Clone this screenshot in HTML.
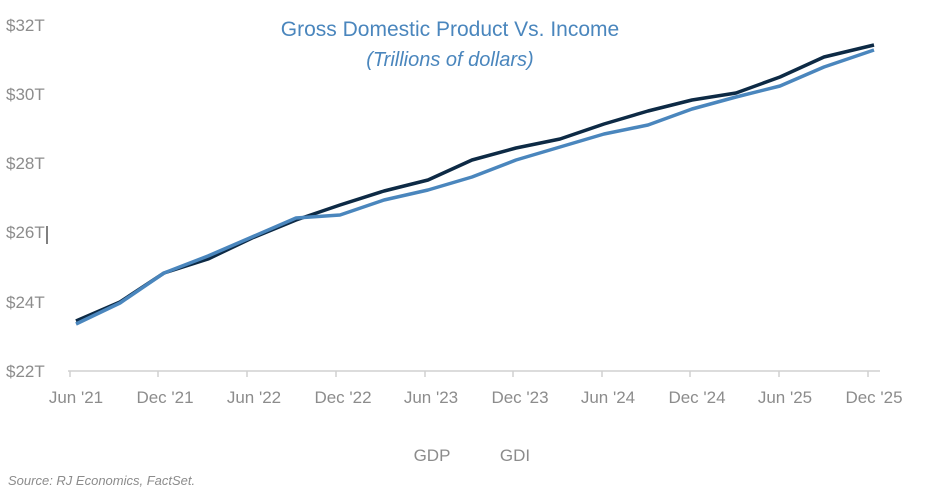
<!DOCTYPE html>
<html><head><meta charset="utf-8"><style>
body{margin:0;background:#fff;}
svg{display:block;font-family:"Liberation Sans",sans-serif;}
</style></head><body>
<svg width="936" height="494" viewBox="0 0 936 494">
<text x="450" y="36" text-anchor="middle" font-size="21" fill="#4a86bd">Gross Domestic Product Vs. Income</text>
<text x="450" y="66" text-anchor="middle" font-size="20" font-style="italic" fill="#4a86bd">(Trillions of dollars)</text>
<g font-size="17" fill="#8c8c8c">
<text x="6" y="31">$32T</text>
<text x="6" y="100">$30T</text>
<text x="6" y="169">$28T</text>
<text x="6" y="238">$26T</text>
<text x="6" y="308">$24T</text>
<text x="6" y="377">$22T</text>
</g>
<line x1="47" y1="226" x2="47" y2="244" stroke="#000" stroke-width="1"/>
<line x1="68" y1="371" x2="880" y2="371" stroke="#d0d0d0" stroke-width="1.5"/>
<g stroke="#d0d0d0" stroke-width="1.5">
<line x1="70" y1="371" x2="70" y2="377"/><line x1="158" y1="371" x2="158" y2="377"/><line x1="247" y1="371" x2="247" y2="377"/><line x1="336" y1="371" x2="336" y2="377"/><line x1="425" y1="371" x2="425" y2="377"/><line x1="513" y1="371" x2="513" y2="377"/><line x1="602" y1="371" x2="602" y2="377"/><line x1="690" y1="371" x2="690" y2="377"/><line x1="779" y1="371" x2="779" y2="377"/><line x1="868" y1="371" x2="868" y2="377"/>
</g>
<g font-size="17" fill="#8c8c8c" text-anchor="middle">
<text x="76" y="403">Jun '21</text><text x="165" y="403">Dec '21</text><text x="254" y="403">Jun '22</text><text x="343" y="403">Dec '22</text><text x="431" y="403">Jun '23</text><text x="520" y="403">Dec '23</text><text x="608" y="403">Jun '24</text><text x="697" y="403">Dec '24</text><text x="785" y="403">Jun '25</text><text x="874" y="403">Dec '25</text>
</g>
<polyline fill="none" stroke="#0d2a45" stroke-width="3.5" stroke-linejoin="round" points="76,321 120,302 164,273 208,259 252,238 296,220 340,205 384,191 428,180 472,160 516,148 560,139 604,124 648,111 692,100 736,93 780,77 824,57 874,45"/>
<polyline fill="none" stroke="#4a86bd" stroke-width="3.5" stroke-linejoin="round" points="76,324 120,303 164,273 208,256 252,237 296,218 340,215 384,200 428,190 472,177 516,160 560,147 604,134 648,125 692,109 736,97 780,86 824,67 874,50"/>
<text x="432" y="461" text-anchor="middle" font-size="17" fill="#8c8c8c">GDP</text>
<text x="515" y="461" text-anchor="middle" font-size="17" fill="#8c8c8c">GDI</text>
<text x="8" y="485" font-size="13" font-style="italic" fill="#8c8c8c">Source: RJ Economics, FactSet.</text>
</svg>
</body></html>
